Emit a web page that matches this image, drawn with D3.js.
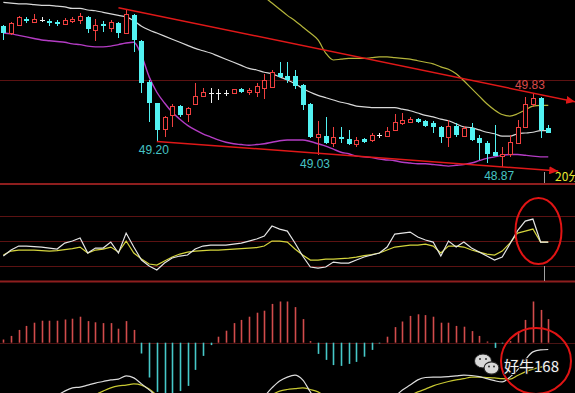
<!DOCTYPE html>
<html>
<head>
<meta charset="utf-8">
<script src="https://cdn.jsdelivr.net/npm/d3@7"></script>
<style>
  body { margin: 0; background: #000; overflow: hidden; }
</style>
</head>
<body>
<div id="chart"></div>
<script>
// candle data (20 min bars)
var open = [50.70, 50.61, 50.71, 50.79, 50.75, 50.78, 50.77, 50.75, 50.73, 50.77,
  50.78, 50.82, 50.65, 50.73, 50.67, 50.74, 50.61, 50.84, 50.51, 49.97,
  49.70, 49.36, 49.54, 49.66, 49.56, 49.69, 49.79, 49.83, 49.83, 49.83,
  49.83, 49.88, 49.84, 49.84, 49.89, 49.91, 50.09, 50.05, 50.05, 49.93,
  49.69, 49.26, 49.27, 49.18, 49.26, 49.23, 49.17, 49.23, 49.22, 49.28,
  49.27, 49.35, 49.44, 49.45, 49.49, 49.47, 49.44, 49.39, 49.26, 49.40,
  49.28, 49.38, 49.25, 49.18, 49.06, 49.01, 49.04, 49.18, 49.39, 49.69,
  49.77, 49.38];
var high = [50.71, 50.75, 50.83, 50.82, 50.86, 50.82, 50.79, 50.78, 50.80, 50.82,
  50.87, 50.83, 50.79, 50.77, 50.78, 50.75, 50.92, 50.86, 50.52, 50.00,
  49.70, 49.53, 49.69, 49.67, 49.65, 49.96, 49.89, 49.89, 49.88, 49.87,
  49.88, 49.89, 49.89, 49.96, 50.08, 50.13, 50.23, 50.23, 50.13, 49.95,
  49.70, 49.47, 49.52, 49.39, 49.39, 49.35, 49.26, 49.25, 49.31, 49.31,
  49.39, 49.56, 49.57, 49.52, 49.50, 49.48, 49.47, 49.40, 49.48, 49.44,
  49.40, 49.44, 49.28, 49.21, 49.41, 49.13, 49.28, 49.48, 49.78, 49.83,
  49.78, 49.41];
var low = [50.52, 50.58, 50.71, 50.74, 50.75, 50.75, 50.70, 50.70, 50.71, 50.74,
  50.73, 50.61, 50.51, 50.62, 50.62, 50.54, 50.61, 50.36, 49.83, 49.45,
  49.20, 49.26, 49.39, 49.52, 49.45, 49.67, 49.78, 49.70, 49.74, 49.79,
  49.82, 49.83, 49.80, 49.78, 49.75, 49.89, 50.02, 49.96, 49.88, 49.61,
  49.25, 49.03, 49.17, 49.13, 49.18, 49.15, 49.13, 49.18, 49.19, 49.25,
  49.26, 49.34, 49.41, 49.44, 49.44, 49.39, 49.31, 49.18, 49.13, 49.26,
  49.26, 49.21, 48.96, 48.92, 49.01, 48.87, 49.00, 49.17, 49.39, 49.65,
  49.25, 49.31];
var close = [50.61, 50.74, 50.82, 50.77, 50.79, 50.78, 50.74, 50.73, 50.78, 50.79,
  50.83, 50.66, 50.71, 50.70, 50.75, 50.61, 50.86, 50.51, 49.97, 49.70,
  49.35, 49.52, 49.66, 49.54, 49.64, 49.79, 49.84, 49.83, 49.83, 49.83,
  49.88, 49.84, 49.87, 49.92, 50.00, 50.10, 50.04, 50.00, 49.92, 49.67,
  49.26, 49.30, 49.18, 49.26, 49.23, 49.17, 49.22, 49.19, 49.28, 49.28,
  49.34, 49.45, 49.48, 49.49, 49.45, 49.41, 49.39, 49.26, 49.40, 49.28,
  49.38, 49.22, 49.18, 49.04, 49.01, 49.04, 49.19, 49.39, 49.69, 49.77,
  49.36, 49.32];

// bollinger bands
var midBand = [51.01, 51.00, 50.99, 50.99, 50.98, 50.97, 50.97, 50.96, 50.95, 50.93,
  50.93, 50.91, 50.90, 50.88, 50.86, 50.84, 50.82, 50.77, 50.70, 50.65,
  50.61, 50.57, 50.53, 50.49, 50.45, 50.41, 50.38, 50.35, 50.31, 50.27,
  50.23, 50.19, 50.15, 50.13, 50.10, 50.08, 50.04, 50.00, 49.95, 49.89,
  49.84, 49.80, 49.77, 49.74, 49.71, 49.69, 49.66, 49.65, 49.64, 49.64,
  49.64, 49.64, 49.62, 49.60, 49.57, 49.54, 49.52, 49.49, 49.47, 49.43,
  49.39, 49.38, 49.35, 49.32, 49.30, 49.27, 49.27, 49.30, 49.31, 49.32,
  49.34, 49.34];
var lowBand = [50.61, 50.60, 50.58, 50.56, 50.54, 50.52, 50.51, 50.50, 50.49, 50.47,
  50.46, 50.44, 50.43, 50.43, 50.44, 50.46, 50.48, 50.49, 50.32, 50.04,
  49.84, 49.70, 49.58, 49.49, 49.41, 49.35, 49.30, 49.26, 49.22, 49.19,
  49.17, 49.16, 49.15, 49.16, 49.17, 49.19, 49.21, 49.22, 49.22, 49.22,
  49.20, 49.17, 49.14, 49.10, 49.06, 49.04, 49.01, 49.00, 48.99, 48.97,
  48.96, 48.95, 48.93, 48.92, 48.91, 48.91, 48.90, 48.89, 48.88, 48.89,
  48.90, 48.92, 48.95, 48.98, 49.00, 49.02, 49.03, 49.03, 49.02, 49.01,
  49.00, 49.00];
var upBand = [null, null, null, null, null, null, null, null, null, null,
  null, null, null, null, null, null, null, null, null, null,
  null, null, null, null, null, null, null, null, null, null,
  null, null, null, 51.15, 51.08, 51.00, 50.92, 50.84, 50.77, 50.69,
  50.61, 50.52, 50.35, 50.26, 50.27, 50.28, 50.28, 50.28, 50.29, 50.30,
  50.30, 50.29, 50.28, 50.27, 50.25, 50.23, 50.21, 50.17, 50.14, 50.08,
  49.99, 49.89, 49.79, 49.69, 49.61, 49.55, 49.53, 49.56, 49.61, 49.66,
  49.67, 49.67];

// oscillator panel
var kLine = [32.0, 39.2, 44.0, 44.0, 43.4, 42.8, 41.6, 40.4, 47.6, 50.0,
  53.6, 35.6, 41.6, 41.6, 48.8, 35.6, 59.6, 42.8, 27.2, 20.0,
  15.2, 23.6, 29.6, 32.0, 33.2, 40.4, 44.0, 45.2, 45.2, 45.2,
  46.4, 47.6, 50.0, 52.4, 56.0, 68.0, 64.4, 62.0, 47.6, 32.0,
  18.8, 17.6, 18.8, 24.8, 23.6, 23.6, 27.2, 30.8, 33.2, 35.6,
  42.8, 58.4, 59.6, 60.8, 54.8, 51.2, 48.8, 32.0, 50.0, 42.8,
  48.8, 41.6, 36.8, 32.0, 27.2, 30.8, 46.4, 62.5, 74.0, 76.4,
  48.8, 48.8];
var dLine = [33.2, 38.0, 39.2, 39.2, 39.2, 38.6, 38.0, 38.6, 39.8, 41.0,
  42.8, 35.6, 39.2, 40.4, 42.8, 36.8, 50.0, 35.6, 28.4, 22.4,
  21.2, 26.0, 30.8, 34.4, 36.8, 38.0, 38.6, 39.2, 39.2, 39.8,
  40.4, 41.0, 41.6, 42.2, 44.0, 50.0, 50.0, 48.8, 40.4, 33.2,
  27.2, 27.2, 28.4, 28.4, 29.0, 29.6, 30.8, 32.6, 33.8, 35.6,
  39.2, 42.8, 44.0, 45.2, 45.2, 46.4, 44.0, 35.6, 44.0, 44.0,
  42.8, 39.2, 36.8, 34.4, 33.2, 38.0, 47.6, 59.6, 62.0, 64.4,
  48.8, 48.8];
var oscLevels = [20, 50, 80];

// macd panel
var macdBar = [0.008, 0.017, 0.032, 0.042, 0.050, 0.055, 0.055, 0.055, 0.058, 0.060,
  0.065, 0.054, 0.051, 0.049, 0.049, 0.035, 0.054, 0.032, -0.027, -0.087,
  -0.123, -0.131, -0.128, -0.121, -0.108, -0.068, -0.033, -0.006, 0.015, 0.030,
  0.049, 0.057, 0.065, 0.075, 0.080, 0.097, 0.103, 0.103, 0.089, 0.059,
  0.004, -0.028, -0.043, -0.056, -0.058, -0.053, -0.048, -0.035, -0.018, -0.002,
  0.015, 0.039, 0.053, 0.067, 0.071, 0.069, 0.065, 0.050, 0.050, 0.042,
  0.040, 0.029, 0.017, 0.003, -0.013, -0.002, 0.004, 0.028, 0.057, 0.103,
  0.082, 0.059];
var dif = [-0.200, -0.190, -0.180, -0.170, -0.160, -0.150, -0.140, -0.132, -0.121, -0.113,
  -0.111, -0.106, -0.101, -0.097, -0.093, -0.091, -0.083, -0.088, -0.103, -0.118,
  -0.136, -0.160, -0.180, -0.200, -0.210, -0.210, -0.200, -0.190, -0.180, -0.170,
  -0.160, -0.155, -0.150, -0.140, -0.133, -0.113, -0.096, -0.086, -0.081, -0.093,
  -0.123, -0.150, -0.170, -0.190, -0.200, -0.200, -0.190, -0.180, -0.170, -0.160,
  -0.150, -0.135, -0.118, -0.106, -0.093, -0.087, -0.086, -0.086, -0.085, -0.083,
  -0.081, -0.082, -0.085, -0.090, -0.095, -0.098, -0.086, -0.068, -0.043, -0.023,
  -0.018, -0.017];
var dea = [-0.200, -0.195, -0.190, -0.185, -0.180, -0.175, -0.170, -0.165, -0.160, -0.150,
  -0.145, -0.138, -0.130, -0.121, -0.113, -0.108, -0.106, -0.103, -0.106, -0.116,
  -0.131, -0.145, -0.160, -0.170, -0.180, -0.185, -0.185, -0.180, -0.175, -0.170,
  -0.165, -0.160, -0.155, -0.148, -0.140, -0.130, -0.121, -0.117, -0.115, -0.113,
  -0.117, -0.123, -0.135, -0.145, -0.155, -0.160, -0.165, -0.165, -0.160, -0.155,
  -0.150, -0.145, -0.140, -0.132, -0.123, -0.116, -0.108, -0.102, -0.097, -0.093,
  -0.090, -0.086, -0.086, -0.087, -0.088, -0.090, -0.091, -0.082, -0.073, -0.066,
  -0.061, -0.058];

// marked lows/highs and trend lines (candle indexes)
var lowMarks = [20, 41, 65];
var highMarks = [69];
var upperTrend = [16, 69];
var lowerTrend = [20, 65];
var priceLevels = [50.00];

var width = 575, height = 393;
var RED = '#f04040', CYAN = '#52f2f2';

var svg = d3.select('#chart').append('svg')
    .attr('width', width)
    .attr('height', height)
    .style('background', '#000')
    .style('display', 'block');

var defs = svg.append('defs');
function clip(id, y0, y1) {
  defs.append('clipPath').attr('id', id)
    .append('rect').attr('x', 0).attr('y', y0).attr('width', width).attr('height', y1 - y0);
}
clip('cMain', 0, 183);
clip('cOsc', 185, 281);
clip('cMacd', 282, height);

defs.append('marker')
    .attr('id', 'arrow')
    .attr('markerUnits', 'userSpaceOnUse')
    .attr('markerWidth', 10).attr('markerHeight', 8)
    .attr('refX', 9).attr('refY', 4)
    .attr('orient', 'auto')
  .append('path')
    .attr('d', 'M0,0 L9,4 L0,8 Z')
    .attr('fill', '#e01818');

var idx = d3.range(open.length);
var x = d3.scaleBand().domain(idx).range([-0.5, 552.1]);
function cx(i) { return x(i) + x.bandwidth() / 2; }
// continuous version for extending trend lines
var xi = d3.scaleLinear().domain([0, idx.length - 1]).range([cx(0), cx(idx.length - 1)]);

var yPrice = d3.scaleLinear().domain([48.66, 51.04]).range([183, 0]);
var yOsc = d3.scaleLinear().domain([0, 100]).range([282.7, 199.4]);
var yMacd = d3.scaleLinear().domain([0, 0.1]).range([342.7, 302.7]);

// panel separators & grid
svg.selectAll('.sep').data([184, 281.5]).enter().append('line')
    .attr('x1', 0).attr('x2', width)
    .attr('y1', function(d) { return d; }).attr('y2', function(d) { return d; })
    .attr('stroke', '#8e1e1e').attr('stroke-width', 2);

svg.selectAll('.pgrid').data(priceLevels).enter().append('line')
    .attr('x1', 0).attr('x2', width)
    .attr('y1', function(d) { return Math.round(yPrice(d)) + 0.5; })
    .attr('y2', function(d) { return Math.round(yPrice(d)) + 0.5; })
    .attr('stroke', '#5c1212');

svg.selectAll('.ogrid').data(oscLevels).enter().append('line')
    .attr('x1', 0).attr('x2', width)
    .attr('y1', function(d) { return Math.round(yOsc(d)) + 0.5; })
    .attr('y2', function(d) { return Math.round(yOsc(d)) + 0.5; })
    .attr('stroke', '#5c1212');

svg.append('line')
    .attr('x1', 0).attr('x2', width)
    .attr('y1', Math.round(yMacd(0)) + 0.5).attr('y2', Math.round(yMacd(0)) + 0.5)
    .attr('stroke', '#4a1414');

// ---- main panel ----
var main = svg.append('g').attr('clip-path', 'url(#cMain)');

function bandLine(arr, yScale) {
  return d3.line()
    .defined(function(i) { return arr[i] != null; })
    .x(function(i) { return cx(i); })
    .y(function(i) { return yScale(arr[i]); })
    .curve(d3.curveMonotoneX);
}

main.append('path').datum(idx).attr('d', bandLine(upBand, yPrice))
    .attr('fill', 'none').attr('stroke', '#b4b43a').attr('stroke-width', 1.2);
main.append('path').datum(idx).attr('d', bandLine(midBand, yPrice))
    .attr('fill', 'none').attr('stroke', '#d8d8d8').attr('stroke-width', 1.2);
main.append('path').datum(idx).attr('d', bandLine(lowBand, yPrice))
    .attr('fill', 'none').attr('stroke', '#b43cc4').attr('stroke-width', 1.4);

// candles
var candle = main.selectAll('.candle').data(idx).enter().append('g')
    .attr('shape-rendering', 'crispEdges');

candle.each(function(i) {
  var g = d3.select(this);
  var r = Math.round(cx(i));
  var col = close[i] > open[i] ? RED : (close[i] < open[i] ? CYAN : '#f0f0f0');
  g.append('line')
      .attr('x1', r + 0.5).attr('x2', r + 0.5)
      .attr('y1', yPrice(high[i])).attr('y2', yPrice(low[i]))
      .attr('stroke', col);
  var top = yPrice(Math.max(open[i], close[i]));
  var bot = yPrice(Math.min(open[i], close[i]));
  if (close[i] > open[i]) {
    g.append('rect')
        .attr('x', r - 1.5).attr('y', Math.round(top) + 0.5)
        .attr('width', 4).attr('height', Math.max(1, Math.round(bot - top)))
        .attr('fill', '#000').attr('stroke', col);
  } else if (close[i] < open[i]) {
    g.append('rect')
        .attr('x', r - 2).attr('y', Math.round(top))
        .attr('width', 5).attr('height', Math.max(2, Math.round(bot - top)))
        .attr('fill', col);
  } else {
    g.append('line')
        .attr('x1', r - 2).attr('x2', r + 3)
        .attr('y1', Math.round(top) + 0.5).attr('y2', Math.round(top) + 0.5)
        .attr('stroke', col);
  }
});

// trend lines
function trend(a, pa, b, pb, endIdx) {
  var slope = (pb - pa) / (b - a);
  return [[xi(a), yPrice(pa)], [xi(endIdx), yPrice(pa + slope * (endIdx - a))]];
}
var upPts = trend(upperTrend[0], high[upperTrend[0]], upperTrend[1], high[upperTrend[1]], 74.5);
upPts[0] = [xi(upperTrend[0] - 1), yPrice(high[upperTrend[0]] + (high[upperTrend[0]] - high[upperTrend[1]]) / (upperTrend[1] - upperTrend[0]))];
var loPts = trend(lowerTrend[0], low[lowerTrend[0]], lowerTrend[1], low[lowerTrend[1]], 72.3);

svg.selectAll('.trend').data([upPts, loPts]).enter().append('path')
    .attr('d', d3.line())
    .attr('fill', 'none')
    .attr('stroke', '#e01818')
    .attr('stroke-width', 1.5)
    .attr('marker-end', 'url(#arrow)');

// price labels
var fmt = d3.format('.2f');
svg.selectAll('.lowLbl').data(lowMarks).enter().append('text')
    .attr('x', function(i) { return cx(i) - 3; })
    .attr('y', function(i) { return yPrice(low[i]) + 13; })
    .attr('text-anchor', 'middle')
    .attr('font-family', '"Liberation Sans", Arial, sans-serif')
    .attr('font-size', 12)
    .attr('fill', '#46c4c4')
    .text(function(i) { return fmt(low[i]); });

svg.selectAll('.highLbl').data(highMarks).enter().append('text')
    .attr('x', function(i) { return cx(i) - 3; })
    .attr('y', function(i) { return yPrice(high[i]) - 4; })
    .attr('text-anchor', 'middle')
    .attr('font-family', '"Liberation Sans", Arial, sans-serif')
    .attr('font-size', 12)
    .attr('fill', '#d84a4a')
    .text(function(i) { return fmt(high[i]); });

svg.append('text')
    .attr('x', 555).attr('y', 181)
    .attr('font-family', '"Noto Sans CJK SC", sans-serif')
    .attr('font-size', 12)
    .attr('fill', '#e6e632')
    .text('20分');

// cursor ticks
svg.selectAll('.cur').data([[172, 183], [266, 281]]).enter().append('line')
    .attr('x1', 544.5).attr('x2', 544.5)
    .attr('y1', function(d) { return d[0]; }).attr('y2', function(d) { return d[1]; })
    .attr('stroke', '#a0a0a0');

// ---- oscillator panel ----
var osc = svg.append('g').attr('clip-path', 'url(#cOsc)');
function simpleLine(arr, yScale) {
  return d3.line()
    .defined(function(i) { return arr[i] != null; })
    .x(function(i) { return cx(i); })
    .y(function(i) { return yScale(arr[i]); });
}
osc.append('path').datum(idx).attr('d', simpleLine(dLine, yOsc))
    .attr('fill', 'none').attr('stroke', '#d4d43c').attr('stroke-width', 1.2);
osc.append('path').datum(idx).attr('d', simpleLine(kLine, yOsc))
    .attr('fill', 'none').attr('stroke', '#e4e4e4').attr('stroke-width', 1.2);

// ---- macd panel ----
var macd = svg.append('g').attr('clip-path', 'url(#cMacd)');
macd.selectAll('.bar').data(idx).enter().append('line')
    .attr('x1', function(i) { return Math.round(cx(i)) + 0.5; })
    .attr('x2', function(i) { return Math.round(cx(i)) + 0.5; })
    .attr('y1', yMacd(0))
    .attr('y2', function(i) { return yMacd(macdBar[i]); })
    .attr('stroke', function(i) { return macdBar[i] >= 0 ? '#d24c4c' : '#46c8c8'; })
    .attr('stroke-width', 1.6);

macd.append('path').datum(idx).attr('d', bandLine(dea, yMacd))
    .attr('fill', 'none').attr('stroke', '#c8c832').attr('stroke-width', 1.2);
macd.append('path').datum(idx).attr('d', bandLine(dif, yMacd))
    .attr('fill', 'none').attr('stroke', '#dcdcdc').attr('stroke-width', 1.2);

// highlight circles
svg.selectAll('.ring').data([[538.5, 231, 23, 33], [536, 361, 35, 33]]).enter().append('ellipse')
    .attr('cx', function(d) { return d[0]; })
    .attr('cy', function(d) { return d[1]; })
    .attr('rx', function(d) { return d[2]; })
    .attr('ry', function(d) { return d[3]; })
    .attr('fill', 'none')
    .attr('stroke', '#e01414')
    .attr('stroke-width', 2);

// watermark
var wm = svg.append('g');
wm.append('ellipse').attr('cx', 483).attr('cy', 361).attr('rx', 8.5).attr('ry', 7)
    .attr('fill', '#d8d8d8').attr('stroke', '#222').attr('stroke-width', 1);
wm.append('ellipse').attr('cx', 491.5).attr('cy', 368).attr('rx', 7.5).attr('ry', 6.2)
    .attr('fill', '#d8d8d8').attr('stroke', '#222').attr('stroke-width', 1.2);
wm.selectAll('.eye').data([[480, 359], [486, 359], [489, 366.5], [494, 366.5]]).enter().append('circle')
    .attr('cx', function(d) { return d[0]; }).attr('cy', function(d) { return d[1]; })
    .attr('r', 1).attr('fill', '#333');
wm.append('text')
    .attr('x', 504).attr('y', 372)
    .attr('font-family', '"Noto Sans CJK SC", sans-serif')
    .attr('font-size', 15)
    .attr('fill', '#f4f4f4')
    .attr('stroke', '#111').attr('stroke-width', 2).attr('paint-order', 'stroke')
    .text('好牛168');
</script>
</body>
</html>
